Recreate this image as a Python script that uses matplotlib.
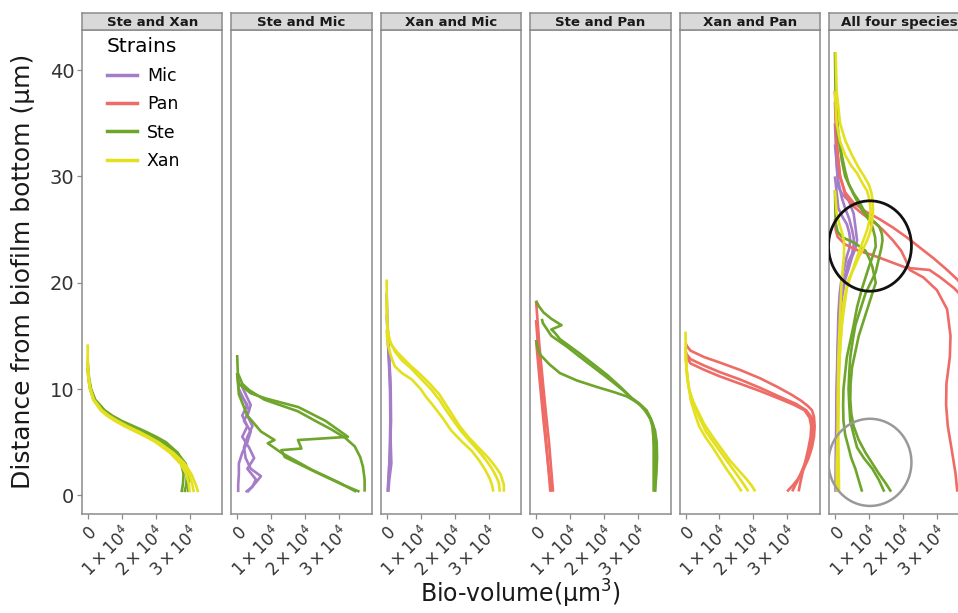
import matplotlib
matplotlib.use("Agg")
import matplotlib.pyplot as plt
from matplotlib.patches import Ellipse
from matplotlib.lines import Line2D

plt.rcParams['font.family'] = ['DejaVu Sans']
plt.rcParams['mathtext.fontset'] = 'dejavusans'

# ---------------- data ----------------
STRAINS = ["Mic", "Pan", "Ste", "Xan"]
COLORS = {"Mic": "#A57CC8", "Pan": "#EE6B66", "Ste": "#6EA52B", "Xan": "#E3E01F"}
PANELS = ["Ste and Xan", "Ste and Mic", "Xan and Mic", "Ste and Pan",
          "Xan and Pan", "All four species"]
X_TICKS = [0, 1, 2, 3]                      # bio-volume in units of 1e4 um^3
X_TICK_LABELS = ["0", r"$1\times10^{4}$", r"$2\times10^{4}$", r"$3\times10^{4}$"]
Y_TICKS = [0, 10, 20, 30, 40]

# each curve: (distance from bottom [um], bio-volume [1e4 um^3])
p1_ste = [
    ([0.3, 1, 2, 3, 4, 5, 5.5, 6, 6.5, 7, 7.5, 8, 9, 10, 11, 12],
     [2.76, 2.8, 2.82, 2.75, 2.55, 2.2, 1.93, 1.62, 1.28, 0.95, 0.68, 0.45, 0.2, 0.08, 0.03, 0.0]),
    ([0.3, 1, 2, 3, 4, 5, 5.5, 6, 6.5, 7, 7.5, 8, 9, 10, 11, 12.5],
     [2.85, 2.9, 2.92, 2.85, 2.65, 2.3, 2.02, 1.7, 1.35, 1.0, 0.72, 0.5, 0.22, 0.1, 0.04, 0.0]),
    ([0.3, 1, 2, 3, 4, 5, 5.5, 6, 6.5, 7, 7.5, 8, 9, 10, 11, 12],
     [2.95, 2.97, 2.97, 2.88, 2.62, 2.2, 1.9, 1.55, 1.22, 0.9, 0.63, 0.42, 0.18, 0.07, 0.02, 0.0]),
]
p1_xan = [
    ([0.3, 1, 2, 3, 4, 5, 5.5, 6, 6.5, 7, 7.5, 8, 9, 10, 11, 12, 13, 14.2],
     [3.0, 2.98, 2.9, 2.72, 2.42, 2.0, 1.72, 1.4, 1.08, 0.8, 0.56, 0.38, 0.16, 0.07, 0.03, 0.01, 0.0, 0.0]),
    ([0.3, 1, 2, 3, 4, 5, 5.5, 6, 6.5, 7, 7.5, 8, 9, 10, 11, 12, 13],
     [3.12, 3.08, 2.98, 2.8, 2.5, 2.05, 1.77, 1.45, 1.13, 0.85, 0.6, 0.4, 0.17, 0.07, 0.02, 0.0, 0.0]),
    ([0.3, 1, 2, 3, 4, 5, 5.5, 6, 6.5, 7, 7.5, 8, 9, 10, 11, 12],
     [3.25, 3.18, 3.05, 2.85, 2.52, 2.08, 1.8, 1.5, 1.17, 0.88, 0.62, 0.42, 0.18, 0.08, 0.03, 0.0]),
]

p2_mic = [
    ([11.5, 10, 9, 8, 7, 6, 5, 4, 3, 2, 1, 0.3],
     [0, 0.05, 0.2, 0.35, 0.2, 0.4, 0.3, 0.15, 0.05, 0.05, 0.03, 0.03]),
    ([10.5, 9.5, 8.5, 7.5, 6.5, 5.5, 4.5, 3.5, 2.5, 1.8, 1.2, 0.3],
     [0.1, 0.25, 0.4, 0.3, 0.45, 0.3, 0.2, 0.25, 0.4, 0.7, 0.55, 0.3]),
    ([9.5, 8.5, 7.5, 6.5, 5.5, 4.5, 3.5, 2.5, 1.5, 0.8, 0.3],
     [0.1, 0.3, 0.15, 0.3, 0.15, 0.35, 0.5, 0.3, 0.55, 0.45, 0.25]),
]
p2_ste = [
    ([13.2, 11.5, 10.5, 9.9, 9.0, 8.5, 7.9, 7.0, 6.2, 5.4, 4.6, 3.6, 2.7, 1.5, 0.34],
     [0, 0.02, 0.15, 0.35, 0.8, 1.25, 1.79, 2.3, 2.77, 3.18, 3.46, 3.62, 3.7, 3.75, 3.75]),
    ([11.5, 10.5, 9.6, 9.1, 8.3, 7.0, 5.5, 5.2, 4.4, 4.25, 3.6, 2.9, 2.2, 1.6, 1.0, 0.34],
     [0, 0.05, 0.4, 0.85, 1.8, 2.6, 3.26, 1.79, 1.89, 1.3, 1.4, 1.85, 2.3, 2.7, 3.1, 3.6]),
    ([11.5, 9.5, 7.5, 6.0, 5.2, 4.9, 4.0, 3.2, 2.4, 1.8, 1.2, 0.34],
     [0, 0.05, 0.3, 0.7, 1.1, 0.9, 1.3, 1.75, 2.2, 2.6, 3.0, 3.5]),
]

p3_mic = [
    ([19, 16, 13, 10, 7, 4, 2, 0.34], [0, 0.03, 0.08, 0.12, 0.13, 0.1, 0.06, 0.03]),
    ([17, 14, 11, 8, 5, 3, 1.5, 0.34], [0, 0.05, 0.1, 0.12, 0.12, 0.14, 0.08, 0.05]),
    ([15.5, 13, 10, 7, 4, 2, 0.34], [0.02, 0.06, 0.1, 0.11, 0.09, 0.07, 0.04]),
]
p3_xan = [
    ([20.3, 17, 15.5, 14.5, 13.5, 12.7, 12, 11, 10, 9, 8, 7, 6, 5, 4, 3.2, 2.5, 1.8, 1.2, 0.34],
     [0, 0.01, 0.03, 0.1, 0.25, 0.45, 0.7, 1.0, 1.3, 1.55, 1.75, 1.97, 2.2, 2.47, 2.75, 2.95, 3.1, 3.22, 3.3, 3.33]),
    ([18.4, 16, 15, 14.2, 13.5, 13, 12.2, 11.5, 10.5, 9.5, 8.5, 7.5, 6.5, 5.5, 4.5, 3.5, 2.7, 2.0, 1.0, 0.34],
     [0, 0.02, 0.05, 0.13, 0.3, 0.45, 0.7, 0.95, 1.27, 1.55, 1.75, 1.95, 2.15, 2.4, 2.7, 3.0, 3.2, 3.35, 3.45, 3.45]),
    ([15.6, 14.6, 13.9, 13.2, 12.6, 12.1, 11.5, 10.9, 10, 9.3, 8.6, 7.4, 6.1, 5.1, 4.2, 3.3, 2.4, 1.6, 1.0, 0.34],
     [0, 0.02, 0.06, 0.12, 0.18, 0.25, 0.45, 0.74, 1.0, 1.15, 1.33, 1.62, 1.9, 2.2, 2.5, 2.72, 2.9, 3.03, 3.1, 3.14]),
]

p4_pan = [
    ([18.3, 14, 9, 5, 0.34], [0, 0.1, 0.25, 0.38, 0.5]),
    ([16.5, 13, 9, 5, 0.34], [0, 0.08, 0.2, 0.3, 0.42]),
    ([14.6, 11, 7, 3, 0.34], [0, 0.1, 0.22, 0.35, 0.45]),
]
p4_ste = [
    ([18.3, 17.8, 17.2, 16.6, 16.0, 15.6, 15.3, 14.7, 14.0, 13.3, 12.3, 11.3, 10.2, 9.2, 8.6, 8.0, 7.2, 6.5, 5.5, 4.5, 3.5, 2.0, 0.34],
     [0, 0.08, 0.22, 0.45, 0.75, 0.45, 0.55, 0.7, 1.0, 1.3, 1.7, 2.1, 2.48, 2.8, 3.05, 3.25, 3.38, 3.45, 3.5, 3.52, 3.52, 3.51, 3.5]),
    ([16.6, 16.2, 15.0, 14.0, 13.0, 11.9, 10.8, 9.9, 9.0, 8.4, 7.9, 7.2, 6.5, 5.5, 4.5, 3.5, 2.0, 0.34],
     [0.17, 0.2, 0.45, 0.9, 1.3, 1.75, 2.2, 2.55, 2.85, 3.1, 3.25, 3.36, 3.42, 3.45, 3.46, 3.46, 3.46, 3.46]),
    ([14.6, 13.8, 13.2, 12.3, 11.5, 10.8, 10.2, 9.7, 9.3, 8.7, 8.0, 7.0, 6.1, 5.0, 3.5, 2.0, 0.34],
     [0, 0.05, 0.13, 0.4, 0.7, 1.2, 1.78, 2.3, 2.67, 3.0, 3.2, 3.4, 3.5, 3.55, 3.56, 3.54, 3.5]),
]

p5_pan = [
    ([14.3, 14.0, 13.6, 13.0, 12.5, 11.8, 11.0, 10.2, 9.5, 8.9, 8.4, 8.0, 7.4, 6.5, 5.5, 4.5, 3.5, 2.5, 1.5, 0.9, 0.37],
     [0, 0.05, 0.15, 0.55, 1.0, 1.6, 2.2, 2.7, 3.1, 3.4, 3.6, 3.72, 3.78, 3.8, 3.78, 3.72, 3.62, 3.48, 3.3, 3.15, 2.99]),
    ([13.5, 13.2, 12.8, 12.2, 11.6, 10.9, 10.1, 9.3, 8.6, 8.0, 7.3, 6.5, 5.5, 4.5, 3.5, 2.5, 1.5, 0.9, 0.37],
     [0, 0.05, 0.15, 0.55, 1.0, 1.6, 2.2, 2.75, 3.25, 3.55, 3.72, 3.76, 3.74, 3.68, 3.58, 3.45, 3.32, 3.22, 3.14]),
    ([13.2, 12.9, 12.4, 11.8, 11.2, 10.5, 9.8, 9.1, 8.5, 8.0, 7.3, 6.5, 5.5, 4.5, 3.5, 2.5, 1.5, 0.9, 0.37],
     [0, 0.05, 0.15, 0.55, 1.0, 1.6, 2.2, 2.75, 3.2, 3.5, 3.65, 3.7, 3.68, 3.62, 3.55, 3.47, 3.4, 3.36, 3.33]),
]
p5_xan = [
    ([15.4, 13.5, 12, 10.5, 9, 7.8, 6.5, 5.5, 4.5, 3.5, 2.5, 1.5, 0.37],
     [0, 0.01, 0.03, 0.08, 0.15, 0.26, 0.4, 0.58, 0.8, 1.0, 1.2, 1.42, 1.65]),
    ([14, 12.5, 11, 9.7, 8.5, 7.2, 6, 5.1, 4.2, 3.1, 2.0, 1.1, 0.37],
     [0, 0.02, 0.05, 0.13, 0.25, 0.42, 0.6, 0.8, 1.0, 1.25, 1.5, 1.7, 1.85]),
    ([13, 11.5, 10, 9, 8, 6.7, 5.5, 4.4, 3.3, 2.4, 1.5, 0.9, 0.37],
     [0, 0.04, 0.1, 0.2, 0.35, 0.55, 0.8, 1.05, 1.3, 1.55, 1.8, 1.95, 2.05]),
]

p6_mic = [
    ([35, 31, 29, 28.3, 27.7, 26.5, 25.3, 24, 23.2, 22.4, 21.3, 20.3, 18.5, 17, 14.5, 12, 9, 6, 3, 0.34],
     [0, 0.05, 0.1, 0.22, 0.41, 0.55, 0.6, 0.65, 0.6, 0.5, 0.4, 0.3, 0.2, 0.15, 0.1, 0.08, 0.06, 0.05, 0.04, 0.03]),
    ([33, 29.5, 28, 27, 26, 25, 24.2, 23.5, 22.7, 22, 20.7, 19.5, 17, 15, 12, 9, 6, 3, 0.34],
     [0, 0.1, 0.2, 0.3, 0.42, 0.5, 0.55, 0.55, 0.5, 0.4, 0.3, 0.2, 0.13, 0.1, 0.07, 0.05, 0.04, 0.03, 0.03]),
    ([30, 27, 26.2, 25.5, 24.7, 24, 23.2, 22.5, 21.5, 20.5, 19, 17, 13, 10, 5, 0.34],
     [0, 0.1, 0.22, 0.35, 0.42, 0.45, 0.42, 0.35, 0.28, 0.2, 0.14, 0.1, 0.07, 0.05, 0.03, 0.02]),
]
p6_pan = [
    ([38, 35, 32, 30, 28.3, 27.3, 26.5, 25.8, 25, 24, 23, 22, 21.2, 20.5, 19.3, 17.5, 15, 13, 10.5, 8.5, 6.5, 4, 2, 0.34],
     [0, 0.03, 0.08, 0.15, 0.3, 0.5, 0.8, 1.1, 1.4, 1.7, 1.95, 2.1, 2.2, 2.6, 3.0, 3.3, 3.4, 3.38, 3.28, 3.27, 3.32, 3.45, 3.55, 3.6]),
    ([37, 33, 30, 28.5, 27.5, 26.7, 26, 25.2, 24.3, 23.3, 22.3, 21.2, 20.3, 19, 17, 14, 10, 5, 0.34],
     [0, 0.05, 0.15, 0.3, 0.55, 0.9, 1.3, 1.7, 2.1, 2.5, 2.9, 3.3, 3.6, 3.9, 4.1, 4.2, 4.2, 4.1, 4.05]),
    ([26, 25, 24.3, 23.6, 23.0, 22.6, 22.0, 21.4, 21.2, 20.5, 19.5, 18.5, 17, 15, 10, 5, 0.34],
     [0, 0.02, 0.08, 0.3, 0.7, 1.1, 1.6, 2.1, 2.78, 3.1, 3.5, 3.8, 4.0, 4.1, 4.2, 4.2, 4.2]),
]
p6_ste = [
    ([41.7, 37, 34, 32, 30.5, 29.3, 28.4, 27.7, 26.5, 25.3, 24.6, 24, 23.2, 22.4, 21, 19, 17.5, 16, 14.5, 13, 11.5, 10, 8.5, 7, 5.7, 4.5, 3.5, 2.5, 1.4, 0.34],
     [0, 0.02, 0.08, 0.2, 0.3, 0.4, 0.55, 0.7, 0.9, 1.3, 1.38, 1.4, 1.36, 1.3, 1.2, 0.9, 0.75, 0.6, 0.52, 0.45, 0.42, 0.4, 0.42, 0.45, 0.55, 0.65, 0.85, 1.1, 1.3, 1.45]),
    ([38, 34, 31.5, 30, 28.3, 26.8, 26, 25.3, 24.3, 23.4, 22.4, 21.5, 19.5, 17.7, 16, 14.5, 13, 11.5, 10, 8.5, 7, 5.7, 4.5, 3.5, 2.5, 1.4, 0.34],
     [0, 0.1, 0.2, 0.3, 0.55, 0.8, 0.98, 1.1, 1.18, 1.2, 1.1, 1.0, 0.8, 0.65, 0.55, 0.45, 0.35, 0.3, 0.25, 0.24, 0.25, 0.3, 0.4, 0.48, 0.6, 0.7, 0.8]),
    ([28.7, 25.6, 24.8, 24.3, 23.7, 23.0, 22.2, 21.5, 20, 18, 16.5, 15, 13.5, 12, 10.5, 9, 7.7, 6.5, 5.2, 4, 3, 2, 1.1, 0.34],
     [0, 0.02, 0.08, 0.2, 0.6, 0.9, 1.02, 1.1, 1.2, 1.0, 0.85, 0.7, 0.6, 0.5, 0.46, 0.45, 0.48, 0.55, 0.7, 0.9, 1.1, 1.3, 1.5, 1.65]),
]
p6_xan = [
    ([41.7, 38, 35, 33.4, 32, 30.8, 30, 29.2, 28.5, 27.9, 26.9, 25.9, 24.9, 24.0, 23.2, 22.4, 21.3, 20.3, 18, 14, 10, 6, 3, 0.34],
     [0.02, 0.05, 0.15, 0.3, 0.5, 0.7, 0.86, 1.0, 1.07, 1.1, 1.12, 1.1, 1.05, 0.95, 0.83, 0.7, 0.55, 0.4, 0.25, 0.15, 0.1, 0.08, 0.05, 0.05]),
    ([38, 35, 33.3, 32, 31, 30.3, 29.4, 28.6, 27.7, 26.8, 25.9, 25, 24.1, 23.3, 22.4, 21.5, 20.5, 19.5, 16, 12, 8, 4, 0.34],
     [0, 0.05, 0.15, 0.3, 0.48, 0.65, 0.8, 0.95, 1.02, 1.05, 1.02, 0.95, 0.85, 0.75, 0.65, 0.55, 0.45, 0.35, 0.2, 0.12, 0.1, 0.08, 0.08]),
    ([28.7, 26.5, 25.6, 24.8, 24, 23.2, 22.4, 21.3, 20.3, 17, 13, 9, 5, 0.34],
     [0, 0.05, 0.12, 0.2, 0.26, 0.27, 0.26, 0.23, 0.2, 0.15, 0.1, 0.08, 0.1, 0.12]),
]

PANEL_DATA = [
    {"Ste": p1_ste, "Xan": p1_xan},
    {"Mic": p2_mic, "Ste": p2_ste},
    {"Mic": p3_mic, "Xan": p3_xan},
    {"Pan": p4_pan, "Ste": p4_ste},
    {"Pan": p5_pan, "Xan": p5_xan},
    {"Mic": p6_mic, "Pan": p6_pan, "Ste": p6_ste, "Xan": p6_xan},
]

# highlight circles in last panel: (center x, center y, width, height)
CIRCLE_BLACK = (1.03, 23.45, 2.44, 8.5)
CIRCLE_GREY = (1.03, 3.1, 2.44, 8.2)

# ---------------- layout ----------------
W, H = 958, 613
fig = plt.figure(figsize=(W / 100, H / 100), dpi=100)
fig.patch.set_facecolor("white")

PANEL_W = 140.3
STEP = 149.45
LEFT0 = 82
BOTTOM_PX = 513.7
TOP_PX = 30
STRIP_TOP = 12.7
SPINE = "#8C8C8C"
TXT = "#333333"

axes = []
for i, title in enumerate(PANELS):
    l = LEFT0 + i * STEP
    ax = fig.add_axes([l / W, 1 - BOTTOM_PX / H, PANEL_W / W, (BOTTOM_PX - TOP_PX) / H])
    for strain in STRAINS:
        for yv, xv in PANEL_DATA[i].get(strain, []):
            ax.plot(xv, yv, color=COLORS[strain], lw=1.9, solid_capstyle="butt",
                    solid_joinstyle="round")
    ax.set_xlim(-0.168, 3.96)
    ax.set_ylim(-1.73, 43.77)
    ax.set_xticks(X_TICKS)
    ax.set_xticklabels(X_TICK_LABELS, rotation=45, ha="right", va="top",
                       rotation_mode="anchor", fontsize=12, color=TXT)
    ax.set_yticks(Y_TICKS)
    if i == 0:
        ax.set_yticklabels([str(v) for v in Y_TICKS], fontsize=14, color=TXT)
        ax.tick_params(axis="y", length=3.5, width=0.9, color=SPINE, pad=2)
    else:
        ax.tick_params(axis="y", left=False, labelleft=False)
    ax.tick_params(axis="x", length=3.5, width=0.9, color=SPINE, pad=3)
    for sp in ax.spines.values():
        sp.set_color(SPINE)
        sp.set_linewidth(1.1)
    axes.append(ax)

    sax = fig.add_axes([l / W, 1 - TOP_PX / H, PANEL_W / W, (TOP_PX - STRIP_TOP) / H])
    sax.set_facecolor("#D9D9D9")
    sax.set_xticks([])
    sax.set_yticks([])
    for sp in sax.spines.values():
        sp.set_color(SPINE)
        sp.set_linewidth(1.1)
    sax.text(0.5, 0.45, title, transform=sax.transAxes, ha="center", va="center",
             fontsize=9.6, fontweight="bold", color="#1A1A1A")

# circles
last = axes[-1]
for (cx, cy, w, h), col, lw in [(CIRCLE_BLACK, "#111111", 2.0), (CIRCLE_GREY, "#999999", 1.8)]:
    last.add_patch(Ellipse((cx, cy), w, h, fill=False, edgecolor=col, lw=lw, zorder=5))

# legend
handles = [Line2D([], [], color=COLORS[s], lw=2.5) for s in STRAINS]
axes[0].legend(handles, STRAINS, title="Strains", loc="upper left",
               bbox_to_anchor=(0.178, 0.985), frameon=False, fontsize=12.5,
               title_fontsize=14.5, handlelength=1.75, handletextpad=0.55,
               labelspacing=0.6, alignment="left", borderaxespad=0, borderpad=0)

fig.text(0.024, 0.558, "Distance from biofilm bottom (μm)", rotation=90,
         ha="center", va="center", fontsize=18, color="#1A1A1A")
fig.text(0.543, 0.005, "Bio-volume(μm$^{3}$)", ha="center", va="bottom",
         fontsize=17, color="#1A1A1A")

fig.savefig("out.png", dpi=100)
